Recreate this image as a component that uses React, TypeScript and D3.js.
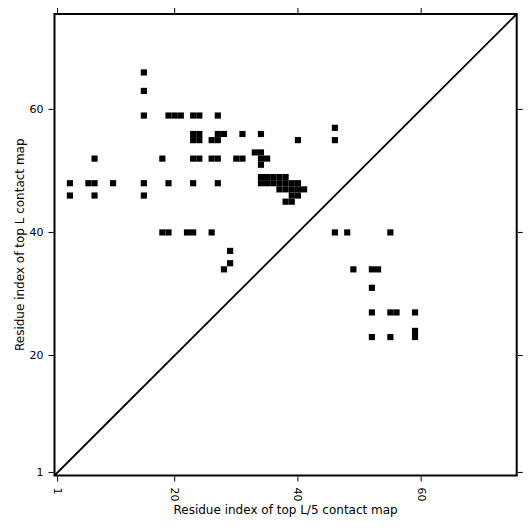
import React from "react";
import * as d3 from "d3";

// Contacts of the top L contact map (drawn above the diagonal): [residue i (x), residue j (y)]
const topLContacts: [number, number][] = [
  [15, 66], [15, 63],
  [15, 59], [19, 59], [20, 59], [21, 59], [23, 59], [24, 59], [27, 59],
  [46, 57],
  [23, 56], [24, 56], [27, 56], [28, 56], [31, 56], [34, 56],
  [23, 55], [24, 55], [26, 55], [27, 55], [40, 55], [46, 55],
  [33, 53], [34, 53],
  [7, 52], [18, 52], [23, 52], [24, 52], [26, 52], [27, 52], [30, 52], [31, 52], [34, 52], [35, 52],
  [34, 51],
  [34, 49], [35, 49], [36, 49], [37, 49], [38, 49],
  [3, 48], [6, 48], [7, 48], [10, 48], [15, 48], [19, 48], [23, 48], [27, 48],
  [34, 48], [35, 48], [36, 48], [37, 48], [38, 48], [39, 48], [40, 48],
  [37, 47], [38, 47], [39, 47], [40, 47], [41, 47],
  [3, 46], [7, 46], [15, 46], [39, 46], [40, 46],
  [38, 45], [39, 45],
  [18, 40], [19, 40], [22, 40], [23, 40], [26, 40],
  [29, 37], [29, 35], [28, 34],
];

// Contacts of the top L/5 contact map (drawn below the diagonal)
const topL5Contacts: [number, number][] = [
  [46, 40], [48, 40], [55, 40],
  [49, 34], [52, 34], [53, 34],
  [52, 31],
  [52, 27], [55, 27], [56, 27], [59, 27],
  [59, 24],
  [52, 23], [55, 23], [59, 23],
];

const seqLength = 75;
const xTicks = [1, 20, 40, 60];
const yTicks = [1, 20, 40, 60];
const xLabel = "Residue index of top L/5 contact map";
const yLabel = "Residue index of top L contact map";

export default function App() {
  const W = 531;
  const H = 531;
  const left = 54.5;
  const right = 516.7;
  const top = 14;
  const bottom = 475.5;
  const x = d3.scaleLinear().domain([0.5, seqLength + 0.5]).range([left, right]);
  const y = d3.scaleLinear().domain([0.5, seqLength + 0.5]).range([bottom, top]);
  const font = "DejaVu Sans, sans-serif";
  const all = [...topLContacts, ...topL5Contacts];
  const tickLen = 5;

  return (
    <svg
      width={W}
      height={H}
      style={{ position: "absolute", left: 0, top: 0, background: "#fff" }}
      fontFamily={font}
    >
      <rect x={0} y={0} width={W} height={H} fill="#fff" />
      {all.map(([i, j], k) => (
        <rect
          key={k}
          x={x(i - 0.5)}
          y={y(j + 0.5)}
          width={x(i + 0.5) - x(i - 0.5)}
          height={y(j - 0.5) - y(j + 0.5)}
          fill="#000"
        />
      ))}
      <line
        x1={x(0.5)}
        y1={y(0.5)}
        x2={x(seqLength + 0.5)}
        y2={y(seqLength + 0.5)}
        stroke="#000"
        strokeWidth={1.8}
      />
      <rect
        x={left}
        y={top}
        width={right - left}
        height={bottom - top}
        fill="none"
        stroke="#000"
        strokeWidth={2}
      />
      {xTicks.map((t) => (
        <g key={"x" + t}>
          <line x1={x(t)} x2={x(t)} y1={bottom + 1} y2={bottom + 1 + tickLen} stroke="#000" strokeWidth={1} />
          <line x1={x(t)} x2={x(t)} y1={top - 1} y2={top - 1 - tickLen} stroke="#000" strokeWidth={1} />
          <text
            transform={`translate(${x(t)},${bottom + 12}) rotate(90)`}
            fontSize={11}
            textAnchor="start"
            dominantBaseline="central"
          >
            {t}
          </text>
        </g>
      ))}
      {yTicks.map((t) => (
        <g key={"y" + t}>
          <line x1={left - 1} x2={left - 1 - tickLen} y1={y(t)} y2={y(t)} stroke="#000" strokeWidth={1} />
          <line x1={right + 1} x2={right + 1 + tickLen} y1={y(t)} y2={y(t)} stroke="#000" strokeWidth={1} />
          <text
            x={left - 11}
            y={y(t)}
            fontSize={11}
            textAnchor="end"
            dominantBaseline="central"
          >
            {t}
          </text>
        </g>
      ))}
      <text x={(left + right) / 2} y={514} fontSize={12} textAnchor="middle">
        {xLabel}
      </text>
      <text
        transform={`translate(24,${(top + bottom) / 2}) rotate(-90)`}
        fontSize={12}
        textAnchor="middle"
      >
        {yLabel}
      </text>
    </svg>
  );
}
